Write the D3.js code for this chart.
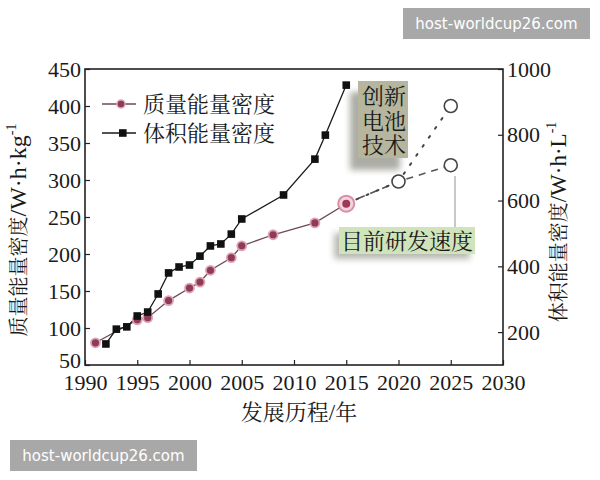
<!DOCTYPE html>
<html><head><meta charset="utf-8">
<script src="https://cdn.jsdelivr.net/npm/d3@7"></script>
<style>body{margin:0;background:#fff}svg{display:block}</style>
</head><body>
<script>
// ---- data ----
const massYears  = [1991,1995,1996,1998,2000,2001,2002,2004,2005,2008,2012,2015];
const massValues = [80,111,114,137,154,162,178,195,211,226,242,268];
const volYears   = [1992,1993,1994,1995,1996,1997,1998,1999,2000,2001,2002,2003,2004,2005,2009,2012,2013,2015];
const volValues  = [164,209,216,249,261,316,380,398,404,431,462,468,498,544,617,726,799,951];
const trendYears   = [2015,2020,2025];
const currentTrend = [268,298,320];
const newTechTrend = [268,298,400];
const xTicks     = [1990,1995,2000,2005,2010,2015,2020,2025,2030];
const leftTicks  = [50,100,150,200,250,300,350,400,450];
const rightTicks = [200,400,600,800,1000];
const legendLabels = ["质量能量密度","体积能量密度"];

const W=600,H=480;
const svg=d3.select("body").append("svg").attr("width",W).attr("height",H);
const defs=svg.append("defs");
defs.append("filter").attr("id","blur").attr("x","-50%").attr("y","-50%").attr("width","200%").attr("height","200%")
  .append("feGaussianBlur").attr("stdDeviation",3);
defs.append("filter").attr("id","blur1").attr("x","-50%").attr("y","-50%").attr("width","200%").attr("height","200%")
  .append("feGaussianBlur").attr("stdDeviation",1.2);

const x=d3.scaleLinear().domain([1990,2030]).range([85,503]);
const yL=d3.scaleLinear().domain([50,450]).range([365,69]);
const yR=d3.scaleLinear().domain([100,1000]).range([365,69]);

const SERIF="Liberation Serif";
const CJK="Noto Serif CJK SC";

// frame
svg.append("rect").attr("x",85).attr("y",69).attr("width",418).attr("height",296)
  .attr("fill","none").attr("stroke","#222").attr("stroke-width",1.6);

function styleAxis(g){
  g.attr("font-family",SERIF).attr("font-size",22);
  g.select(".domain").remove();
  g.selectAll(".tick line").attr("stroke","#222").attr("stroke-width",1.2);
  g.selectAll(".tick text").attr("font-family",SERIF).attr("font-size",22).attr("fill","#1a1a1a");
}
svg.append("g").attr("transform","translate(85,0)")
  .call(d3.axisLeft(yL).tickValues(leftTicks).tickSizeInner(-5).tickSizeOuter(0).tickPadding(4).tickFormat(d3.format("d")))
  .call(styleAxis)
  .selectAll(".tick text").filter(d=>d===50).attr("dy","0.1em");
svg.append("g").attr("transform","translate(503,0)")
  .call(d3.axisRight(yR).tickValues(rightTicks).tickSizeInner(-5).tickSizeOuter(0).tickPadding(4).tickFormat(d3.format("d")))
  .call(styleAxis);
svg.append("g").attr("transform","translate(0,365)")
  .call(d3.axisBottom(x).tickValues(xTicks).tickSizeInner(-5).tickSizeOuter(0).tickPadding(9).tickFormat(d3.format("d")))
  .call(styleAxis);

// axis titles
const lt=svg.append("text").attr("transform","translate(26,230) rotate(-90)").attr("text-anchor","middle")
  .attr("font-family",SERIF).attr("font-size",22).attr("fill","#1a1a1a");
lt.append("tspan").attr("font-family",CJK).attr("font-size",20).text("质量能量密度");
lt.append("tspan").attr("font-size",24).text("/W·h·kg");
lt.append("tspan").attr("font-size",14).attr("dy",-10).text("-1");

const rt=svg.append("text").attr("transform","translate(566,222) rotate(-90)").attr("text-anchor","middle")
  .attr("font-family",SERIF).attr("font-size",22).attr("fill","#1a1a1a");
rt.append("tspan").attr("font-family",CJK).attr("font-size",20).text("体积能量密度");
rt.append("tspan").attr("font-size",23).text("/W·h·L");
rt.append("tspan").attr("font-size",14).attr("dy",-10).text("-1");

const xt=svg.append("text").attr("x",299).attr("y",420).attr("text-anchor","middle")
  .attr("font-family",SERIF).attr("font-size",23).attr("fill","#1a1a1a");
xt.append("tspan").attr("font-family",CJK).attr("font-size",22).text("发展历程");
xt.append("tspan").text("/");
xt.append("tspan").attr("font-family",CJK).attr("font-size",22).text("年");

// annotation boxes (under lines)
const ann=svg.append("g");
ann.append("rect").attr("x",350).attr("y",92).attr("width",50).attr("height",78).attr("fill","#8a8a80").attr("opacity",0.7).attr("filter","url(#blur)");
ann.append("rect").attr("x",358).attr("y",81).attr("width",50).attr("height",77).attr("fill","#b6b69e");
ann.append("line").attr("x1",410).attr("x2",436).attr("y1",111).attr("y2",111).attr("stroke","#a8a8a8").attr("stroke-width",6).attr("filter","url(#blur1)");
ann.append("line").attr("x1",446).attr("x2",446).attr("y1",190).attr("y2",228).attr("stroke","#b0b0b0").attr("stroke-width",7).attr("filter","url(#blur1)");
ann.append("line").attr("x1",455).attr("x2",455).attr("y1",176).attr("y2",228).attr("stroke","#c8c8c8").attr("stroke-width",2);
ann.append("rect").attr("x",334).attr("y",233).attr("width",136).attr("height",26).attr("fill","#8a8a80").attr("opacity",0.6).attr("filter","url(#blur)");
ann.append("rect").attr("x",339).attr("y",227).attr("width",136).attr("height",27).attr("fill","#cfe4bb");
const boxText=ann.append("text").attr("text-anchor","middle")
  .attr("font-family",CJK).attr("font-size",22).attr("fill","#1a1a1a");
["创新","电池","技术"].forEach((t,i)=>{
  boxText.append("tspan").attr("x",384).attr("y",104+i*24.5).text(t);
});
ann.append("text").attr("x",407).attr("y",249).attr("text-anchor","middle")
  .attr("font-family",CJK).attr("font-size",22).attr("fill","#1a1a1a").text("目前研发速度");

// series
const lineL=d3.line().x(d=>x(d[0])).y(d=>yL(d[1]));
const lineR=d3.line().x(d=>x(d[0])).y(d=>yR(d[1]));
const massData=massYears.map((y,i)=>[y,massValues[i]]);
const volData=volYears.map((y,i)=>[y,volValues[i]]);
const curData=trendYears.map((y,i)=>[y,currentTrend[i]]);
const newData=trendYears.map((y,i)=>[y,newTechTrend[i]]);

svg.append("path").datum(curData).attr("d",lineL).attr("fill","none").attr("stroke","#555").attr("stroke-width",1.6).attr("stroke-dasharray","7,6");
svg.append("path").datum(newData).attr("d",lineL).attr("fill","none").attr("stroke","#444").attr("stroke-width",2).attr("stroke-dasharray","2,9").attr("stroke-linecap","round");

svg.append("path").datum(massData).attr("d",lineL).attr("fill","none").attr("stroke","#6e4a55").attr("stroke-width",1.3);
svg.append("path").datum(volData).attr("d",lineR).attr("fill","none").attr("stroke","#1a1a1a").attr("stroke-width",1.3);

svg.append("g").selectAll("circle").data(massData.slice(0,-1)).join("circle")
  .attr("cx",d=>x(d[0])).attr("cy",d=>yL(d[1])).attr("r",4.5)
  .attr("fill","#8e3c55").attr("stroke","#e0a3b6").attr("stroke-width",1.8);
svg.append("g").selectAll("rect").data(volData).join("rect")
  .attr("x",d=>x(d[0])-3.8).attr("y",d=>yR(d[1])-3.8).attr("width",7.6).attr("height",7.6).attr("fill","#111");

// 2015 highlighted point
const last=massData[massData.length-1];
svg.append("circle").attr("cx",x(last[0])).attr("cy",yL(last[1])).attr("r",8).attr("fill","#f4d3dd").attr("stroke","#d98ea6").attr("stroke-width",2);
svg.append("circle").attr("cx",x(last[0])).attr("cy",yL(last[1])).attr("r",4).attr("fill","#9a3a55");

// forecast open circles
const openPts=[curData[1],curData[2],newData[2]];
svg.append("g").selectAll("circle").data(openPts).join("circle")
  .attr("cx",d=>x(d[0])).attr("cy",d=>yL(d[1])).attr("r",6.5)
  .attr("fill","#fff").attr("stroke","#444").attr("stroke-width",1.6);

// legend
const lg=svg.append("g");
[0,1].forEach(i=>{
  const ly=104+i*29;
  lg.append("line").attr("x1",102).attr("x2",136).attr("y1",ly).attr("y2",ly).attr("stroke",i?"#1a1a1a":"#6e4a55").attr("stroke-width",1.3);
  if(i===0) lg.append("circle").attr("cx",121).attr("cy",ly).attr("r",4).attr("fill","#8e3c55").attr("stroke","#e0a3b6").attr("stroke-width",1.5);
  else lg.append("rect").attr("x",119).attr("y",ly-3.8).attr("width",7.6).attr("height",7.6).attr("fill","#111");
  lg.append("text").attr("x",143).attr("y",ly+8).attr("font-family",CJK).attr("font-size",22).attr("fill","#1a1a1a").text(legendLabels[i]);
});

// watermarks
[[403,8],[10,440]].forEach(([wx,wy])=>{
  svg.append("rect").attr("x",wx).attr("y",wy).attr("width",187).attr("height",31).attr("fill","#9e9e9e").attr("opacity",0.9);
  svg.append("text").attr("x",wx+93.5).attr("y",wy+21).attr("text-anchor","middle")
    .attr("font-family","DejaVu Sans").attr("font-size",15).attr("fill","#fff").text("host-worldcup26.com");
});
</script>
</body></html>
